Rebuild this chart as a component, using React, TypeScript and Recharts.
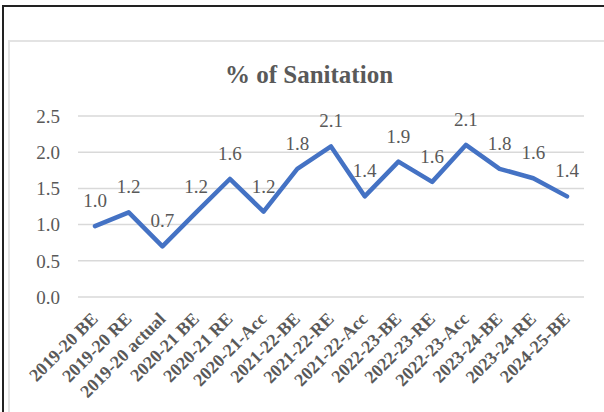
import { LineChart, Line, XAxis, YAxis, CartesianGrid } from "recharts";

const categories = [
  "2019-20 BE",
  "2019-20 RE",
  "2019-20 actual",
  "2020-21 BE",
  "2020-21 RE",
  "2020-21-Acc",
  "2021-22-BE",
  "2021-22-RE",
  "2021-22-Acc",
  "2022-23-BE",
  "2022-23-RE",
  "2022-23-Acc",
  "2023-24-BE",
  "2023-24-RE",
  "2024-25-BE",
];
const sanitationShare = [0.98, 1.17, 0.7, 1.17, 1.63, 1.18, 1.77, 2.08, 1.39, 1.87, 1.59, 2.1, 1.77, 1.64, 1.39];
const yTicks = [0, 0.5, 1, 1.5, 2, 2.5];

const data = categories.map((cat, i) => ({ cat, value: sanitationShare[i] }));

const FONT = '"Liberation Serif", "Times New Roman", serif';
const GREY = "#595959";

function XTick({ x, y, payload }: any) {
  return (
    <g transform={`translate(${x + 4},${y + 23})`}>
      <text
        textAnchor="end"
        transform="rotate(-45)"
        fontFamily={FONT}
        fontSize={18}
        fontWeight="bold"
        fill={GREY}
      >
        {payload.value}
      </text>
    </g>
  );
}

function ValueLabel({ x, y, value }: any) {
  return (
    <text x={x} y={y - 19} textAnchor="middle" fontFamily={FONT} fontSize={19} fill={GREY}>
      {Number(value).toFixed(1)}
    </text>
  );
}

export default function App() {
  return (
    <div style={{ position: "absolute", left: 0, top: 0, width: 604, height: 412, overflow: "hidden", background: "#fff" }}>
      {/* outer frame */}
      <div
        style={{
          position: "absolute",
          left: 2,
          top: 5,
          width: 640,
          height: 440,
          borderTop: "2px solid #222",
          borderLeft: "2px solid #222",
        }}
      />
      {/* chart area frame */}
      <div
        style={{
          position: "absolute",
          left: 8,
          top: 40,
          width: 640,
          height: 440,
          border: "2px solid #e3e3e3",
        }}
      />
      <div
        style={{
          position: "absolute",
          left: 0,
          top: 62,
          width: 618,
          textAlign: "center",
          fontFamily: FONT,
          fontWeight: "bold",
          fontSize: 25,
          lineHeight: "25px",
          color: GREY,
        }}
      >
        % of Sanitation
      </div>
      <div style={{ position: "absolute", left: 0, top: 0 }}>
        <LineChart width={604} height={412} data={data} margin={{ top: 116, right: 20, bottom: 0, left: 0 }}>
          <CartesianGrid vertical={false} stroke="#d9d9d9" strokeWidth={1.5} />
          <XAxis
            dataKey="cat"
            interval={0}
            height={115}
            axisLine={false}
            tickLine={false}
            tickSize={0}
            tickMargin={0}
            padding={{ left: 17, right: 17 }}
            tick={<XTick />}
          />
          <YAxis
            width={78}
            domain={[0, 2.5]}
            ticks={yTicks}
            axisLine={false}
            tickLine={false}
            tickSize={0}
            tickMargin={18}
            tickFormatter={(v: number) => v.toFixed(1)}
            tick={{ fontFamily: FONT, fontSize: 19, fill: GREY }}
          />
          <Line
            dataKey="value"
            stroke="#4472C4"
            strokeWidth={4.5}
            strokeLinejoin="round"
            strokeLinecap="round"
            dot={false}
            label={<ValueLabel />}
            isAnimationActive={false}
          />
        </LineChart>
      </div>
    </div>
  );
}
